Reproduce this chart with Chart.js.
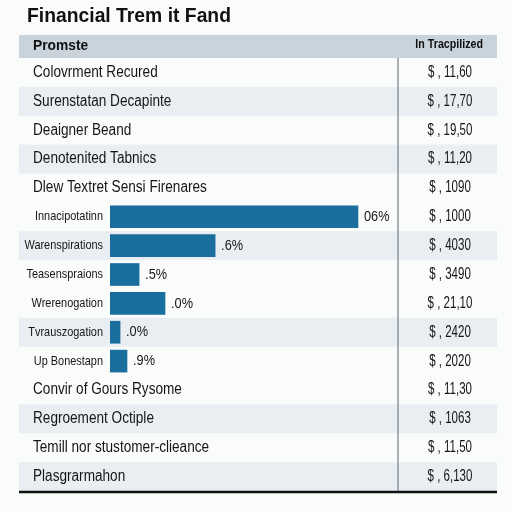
<!DOCTYPE html>
<html><head><meta charset="utf-8">
<script src="https://cdn.jsdelivr.net/npm/chart.js@4/dist/chart.umd.min.js"></script>
<style>html,body{margin:0;padding:0;background:#fafbfb;}canvas{display:block;}</style>
</head><body>
<canvas id="c" width="512" height="512"></canvas>
<script>
const titleText = "Financial Trem it Fand";
const headerLeft = "Promste";
const headerRight = "In Tracpilized";
const categories = [
  "Colovrment Recured","Surenstatan Decapinte","Deaigner Beand","Denotenited Tabnics",
  "Dlew Textret Sensi Firenares","Innacipotatinn","Warenspirations","Teasenspraions",
  "Wrerenogation","Tvrauszogation","Up Bonestapn","Convir of Gours Rysome",
  "Regroement Octiple","Temill nor stustomer-clieance","Plasgrarmahon"
];
const barValues = [null,null,null,null,null,86.1,36.5,10.1,19.1,3.5,5.9,null,null,null,null];
const barLabels = ["","","","","","06%",".6%",".5%",".0%",".0%",".9%","","","",""];
const amountLabels = [
  "$ , 11,60","$ , 17,70","$ , 19,50","$ , 11,20","$ , 1090","$ , 1000","$ , 4030",
  "$ , 3490","$ , 21,10","$ , 2420","$ , 2020","$ , 11,30","$ , 1063","$ , 11,50","$ , 6,130"
];
const shadedRows = [1,3,6,9,12,14];

const FONT = '"Liberation Sans", Arial, sans-serif';

function squeezeText(ctx, text, x, y, factor) {
  const w = ctx.measureText(text).width;
  ctx.fillText(text, x, y, w * factor);
}

const tablePlugin = {
  id: 'tablePlugin',
  beforeDraw(chart) {
    const ctx = chart.ctx;
    ctx.save();
    ctx.fillStyle = '#fafbfb';
    ctx.fillRect(0, 0, chart.width, chart.height);
    ctx.restore();
  },
  beforeDatasetsDraw(chart) {
    const ctx = chart.ctx, y = chart.scales.y, area = chart.chartArea;
    const rowH = (area.bottom - area.top) / categories.length;
    ctx.save();
    ctx.fillStyle = '#111';
    ctx.font = 'bold 21px ' + FONT;
    ctx.textBaseline = 'middle';
    ctx.textAlign = 'left';
    squeezeText(ctx, titleText, 27, 16, 0.92);
    ctx.fillStyle = '#c9d3dc';
    ctx.fillRect(19, 35, 478, area.top - 35);
    ctx.fillStyle = '#111';
    ctx.font = 'bold 15px ' + FONT;
    squeezeText(ctx, headerLeft, 33, 46, 0.92);
    ctx.font = 'bold 12px ' + FONT;
    ctx.textAlign = 'right';
    squeezeText(ctx, headerRight, 483, 45, 0.89);
    ctx.fillStyle = '#e9eef2';
    shadedRows.forEach(i => {
      const cy = y.getPixelForValue(i);
      ctx.fillRect(19, cy - rowH / 2, 478, rowH);
    });
    ctx.strokeStyle = '#8d979f';
    ctx.lineWidth = 1.5;
    ctx.beginPath();
    ctx.moveTo(area.right, area.top);
    ctx.lineTo(area.right, area.bottom);
    ctx.stroke();
    ctx.strokeStyle = '#111';
    ctx.lineWidth = 2.5;
    ctx.beginPath();
    ctx.moveTo(19, area.bottom + 1);
    ctx.lineTo(497, area.bottom + 1);
    ctx.stroke();
    ctx.restore();
  },
  afterDatasetsDraw(chart) {
    const ctx = chart.ctx, x = chart.scales.x, y = chart.scales.y;
    ctx.save();
    ctx.fillStyle = '#151515';
    ctx.textBaseline = 'middle';
    categories.forEach((name, i) => {
      const cy = y.getPixelForValue(i);
      if (barValues[i] === null) {
        ctx.font = '16px ' + FONT;
        ctx.textAlign = 'left';
        squeezeText(ctx, name, 33, cy, 0.85);
      } else {
        ctx.font = '13px ' + FONT;
        ctx.textAlign = 'right';
        squeezeText(ctx, name, 103, cy, 0.84);
        ctx.font = '15px ' + FONT;
        ctx.textAlign = 'left';
        squeezeText(ctx, barLabels[i], x.getPixelForValue(barValues[i]) + 6, cy, 0.85);
      }
      ctx.font = '16px ' + FONT;
      ctx.textAlign = 'center';
      squeezeText(ctx, amountLabels[i], 450, cy, 0.72);
    });
    ctx.restore();
  }
};

new Chart(document.getElementById('c'), {
  type: 'bar',
  data: {
    labels: categories,
    datasets: [{
      data: barValues,
      backgroundColor: '#1a6e9e',
      borderWidth: 0,
      barThickness: 22
    }]
  },
  options: {
    indexAxis: 'y',
    responsive: false,
    animation: false,
    devicePixelRatio: 1,
    layout: { padding: { left: 110, right: 114, top: 58, bottom: 21 } },
    plugins: { legend: { display: false }, tooltip: { enabled: false }, title: { display: false } },
    scales: {
      x: { display: false, min: 0, max: 100 },
      y: { display: false, offset: true }
    }
  },
  plugins: [tablePlugin]
});
</script>
</body></html>
